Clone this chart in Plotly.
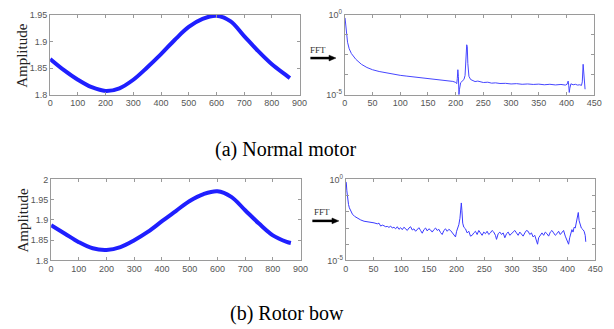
import plotly.graph_objects as go

W, H = 614, 329

# ---------------- data ----------------
# (a) normal motor - time signal
t_a = [0, 50, 100, 150, 200, 250, 300, 350, 400, 450, 500, 550, 600, 650, 700, 750, 800, 850, 865]
amp_a = [1.867, 1.846, 1.828, 1.814, 1.807, 1.812, 1.828, 1.851, 1.876, 1.903, 1.927, 1.942,
         1.948, 1.938, 1.910, 1.882, 1.857, 1.837, 1.831]

# (b) rotor bow - time signal
t_b = [0, 50, 100, 150, 200, 250, 300, 350, 400, 450, 500, 550, 600, 650, 700, 750, 800, 850, 865]
amp_b = [1.887, 1.866, 1.845, 1.830, 1.826, 1.833, 1.850, 1.871, 1.897, 1.922, 1.947, 1.964,
         1.971, 1.957, 1.924, 1.891, 1.862, 1.846, 1.843]

# (a) FFT: frequency and log10 magnitude (decades)
f_a = [0.5, 1, 2, 3, 5, 8, 12, 20, 30, 40, 50, 62, 75, 88, 100, 112, 125, 138, 150, 162, 175, 185,
       195, 200, 202, 203, 204, 205, 206, 207, 209, 212, 215, 217, 218.5, 220, 221, 222, 224, 227,
       230, 235, 240, 245, 250, 258, 265, 272, 280, 290, 300, 310, 320, 330, 340, 350, 360, 370,
       380, 390, 398, 401, 403, 404, 405, 406, 408, 412, 416, 420, 424, 427, 428.5, 430, 431, 432, 433.5]
mag_a = [-0.2, -0.34, -0.81, -1.21, -1.72, -2.13, -2.43, -2.79, -3.10, -3.30, -3.44, -3.55, -3.64,
         -3.72, -3.79, -3.84, -3.89, -3.94, -3.99, -4.03, -4.09, -4.12, -4.17, -4.23, -4.31, -4.0,
         -3.44, -3.85, -5.0, -4.66, -4.25, -4.15, -4.05, -3.8, -3.0, -1.88, -2.0, -3.04, -3.85,
         -4.05, -4.12, -4.18, -4.15, -4.22, -4.24, -4.22, -4.28, -4.26, -4.30, -4.29, -4.33, -4.31,
         -4.35, -4.33, -4.36, -4.34, -4.38, -4.35, -4.39, -4.36, -4.40, -4.35, -4.15, -4.4, -4.86,
         -4.6, -4.32, -4.38, -4.35, -4.40, -4.38, -4.42, -4.2, -3.1, -3.6, -4.25, -4.66]

# (b) FFT
f_b = [0.5, 1, 2, 3.5, 5, 6.5, 9, 12, 16, 21, 27, 33, 39, 45, 51, 57, 60, 63, 66, 69, 72, 75, 78,
       81, 84, 87, 90, 93, 96, 99, 102, 105, 108, 111, 114, 117, 120, 123, 126, 129, 132, 135, 138,
       141, 144, 147, 150, 153, 156, 159, 162, 165, 168, 171, 174, 177, 180, 183, 186, 189, 192,
       195, 198, 200, 202, 204, 206, 207.5, 208.5, 209.5, 211, 213, 216, 219, 222, 225, 228, 231,
       234, 237, 240, 243, 246, 249, 252, 255, 258, 261, 264, 267, 270, 272, 275, 278, 281, 284,
       287, 290, 293, 296, 299, 302, 305, 308, 311, 314, 317, 320, 323, 326, 329, 332, 335, 338,
       341, 344, 346, 348, 351, 354, 357, 360, 363, 366, 369, 372, 375, 378, 381, 384, 387, 390,
       393, 396, 399, 402, 404, 406, 408, 410, 412, 414, 416, 418, 419.5, 421, 423, 425, 428, 430,
       432, 433]
mag_b = [-0.15, -0.22, -0.7, -1.25, -1.55, -1.75, -1.95, -2.14, -2.28, -2.40, -2.50, -2.58, -2.60,
         -2.64, -2.68, -2.74, -2.70, -2.88, -2.82, -2.86, -2.92, -2.90, -2.96, -2.88, -3.00, -2.95,
         -3.05, -2.92, -3.08, -2.98, -3.10, -2.95, -3.05, -3.15, -3.00, -2.92, -3.12, -3.05, -3.20,
         -3.10, -2.98, -3.15, -3.32, -3.10, -3.00, -3.18, -3.05, -3.12, -3.25, -3.10, -3.00, -3.15,
         -3.08, -3.28, -3.40, -3.15, -3.05, -3.20, -3.08, -3.15, -3.30, -3.45, -3.55, -3.20, -3.00,
         -2.80, -2.40, -1.80, -1.45, -1.90, -2.70, -2.95, -3.05, -3.30, -3.20, -3.50, -3.45, -3.30,
         -3.20, -3.40, -3.15, -3.30, -3.45, -3.25, -3.35, -3.20, -3.40, -3.30, -3.15, -3.25, -3.45,
         -3.70, -3.35, -3.25, -3.40, -3.30, -3.60, -3.35, -3.25, -3.45, -3.35, -3.20, -3.15, -3.30,
         -3.45, -3.25, -3.35, -3.50, -3.30, -3.15, -3.20, -3.40, -3.30, -3.55, -3.45, -3.75, -4.00,
         -3.60, -3.40, -3.30, -3.45, -3.25, -3.35, -3.50, -3.25, -3.15, -3.30, -3.45, -3.35, -3.20,
         -3.40, -3.25, -3.15, -3.50, -3.80, -4.00, -3.60, -3.40, -3.10, -3.25, -2.95, -3.00, -2.70,
         -2.30, -2.04, -2.55, -2.85, -3.00, -3.10, -3.20, -3.45, -3.85]

time_ticks = [0, 100, 200, 300, 400, 500, 600, 700, 800, 900]
freq_ticks = [0, 50, 100, 150, 200, 250, 300, 350, 400, 450]
captions = ["(a) Normal motor", "(b) Rotor bow"]

# ---------------- figure ----------------
fig = go.Figure()

def px_x(a, b):
    return [a / W, b / W]

def px_y(top, bottom):
    return [1 - bottom / H, 1 - top / H]

tickfont = dict(family="Liberation Sans, Arial", size=9, color="#555")
axcommon = dict(showline=True, linecolor="#9a9a9a", linewidth=1, mirror="ticks",
                ticks="inside", ticklen=3, tickcolor="#9a9a9a", showgrid=False,
                zeroline=False, tickfont=tickfont)

fig.add_trace(go.Scatter(x=t_a, y=amp_a, mode="lines", line=dict(color="#1f1fff", width=4, shape="spline"),
                         xaxis="x", yaxis="y", showlegend=False))
fig.add_trace(go.Scatter(x=f_a, y=mag_a, mode="lines", line=dict(color="#4646ff", width=1),
                         xaxis="x2", yaxis="y2", showlegend=False))
fig.add_trace(go.Scatter(x=t_b, y=amp_b, mode="lines", line=dict(color="#1f1fff", width=4, shape="spline"),
                         xaxis="x3", yaxis="y3", showlegend=False))
fig.add_trace(go.Scatter(x=f_b, y=mag_b, mode="lines", line=dict(color="#3a3aff", width=1),
                         xaxis="x4", yaxis="y4", showlegend=False))

sup = lambda e: "10<sup>%d</sup>" % e
minor_common = dict(ticks="inside", ticklen=3, tickcolor="#9a9a9a", showgrid=False)

fig.update_layout(
    width=W, height=H, margin=dict(l=0, r=0, t=0, b=0),
    paper_bgcolor="white", plot_bgcolor="white",
    xaxis=dict(domain=px_x(48, 302), anchor="y", range=[0, 900], tickvals=time_ticks, **axcommon),
    yaxis=dict(domain=px_y(8, 91), anchor="x", range=[1.8, 1.95],
               tickvals=[1.8, 1.85, 1.9, 1.95], ticktext=["1.8", "1.85", "1.9", "1.95"], **axcommon),
    xaxis2=dict(domain=px_x(348, 602), anchor="y2", range=[0, 450], tickvals=freq_ticks, **axcommon),
    yaxis2=dict(domain=px_y(8, 91), anchor="x2", range=[-5, 0],
                tickvals=[0, -5], ticktext=[sup(0), sup(-5)],
                minor=dict(tickvals=[-1.25, -2.5, -3.75], **minor_common), **axcommon),
    xaxis3=dict(domain=px_x(49, 303), anchor="y3", range=[0, 900], tickvals=time_ticks, **axcommon),
    yaxis3=dict(domain=px_y(179, 263), anchor="x3", range=[1.8, 2.0],
                tickvals=[1.8, 1.85, 1.9, 1.95, 2.0], ticktext=["1.8", "1.85", "1.9", "1.95", "2"], **axcommon),
    xaxis4=dict(domain=px_x(349, 603), anchor="y4", range=[0, 450], tickvals=freq_ticks, **axcommon),
    yaxis4=dict(domain=px_y(179, 263), anchor="x4", range=[-5, 0],
                tickvals=[0, -5], ticktext=[sup(0), sup(-5)],
                minor=dict(tickvals=[-1, -2, -3, -4], **minor_common), **axcommon),
)

serif = "Liberation Serif, Times New Roman, serif"
ann = []
shapes = []
# y-axis titles
for yc in (50, 221):
    ann.append(dict(text="Amplitude", x=20 / W, y=1 - yc / H, xref="paper", yref="paper",
                    showarrow=False, textangle=-90, font=dict(family=serif, size=15, color="#222"),
                    xanchor="center", yanchor="middle"))
# FFT labels and arrows (drawn as paper shapes)
for (tx, ty, ax0, ax1, ay) in [(321, 45, 313, 339, 53), (325, 213, 315, 342, 222)]:
    ann.append(dict(text="FFT", x=tx / W, y=1 - ty / H, xref="paper", yref="paper", showarrow=False,
                    font=dict(family=serif, size=9, color="#333"), xanchor="center", yanchor="middle"))
    shapes.append(dict(type="line", xref="paper", yref="paper",
                       x0=ax0 / W, x1=(ax1 - 5) / W, y0=1 - ay / H, y1=1 - ay / H,
                       line=dict(color="black", width=2.5)))
    shapes.append(dict(type="path", xref="paper", yref="paper",
                       path="M %f,%f L %f,%f L %f,%f Z" % (
                           (ax1 - 7) / W, 1 - (ay - 3) / H, ax1 / W, 1 - ay / H, (ax1 - 7) / W, 1 - (ay + 3) / H),
                       fillcolor="black", line=dict(color="black", width=0.5)))
# captions
for cap, (cx, cy) in zip(captions, [(288, 148), (289, 318)]):
    ann.append(dict(text=cap, x=cx / W, y=1 - cy / H, xref="paper", yref="paper", showarrow=False,
                    font=dict(family=serif, size=20, color="black"), xanchor="center", yanchor="middle"))
fig.update_layout(annotations=ann, shapes=shapes)

fig.write_html("out.html")
